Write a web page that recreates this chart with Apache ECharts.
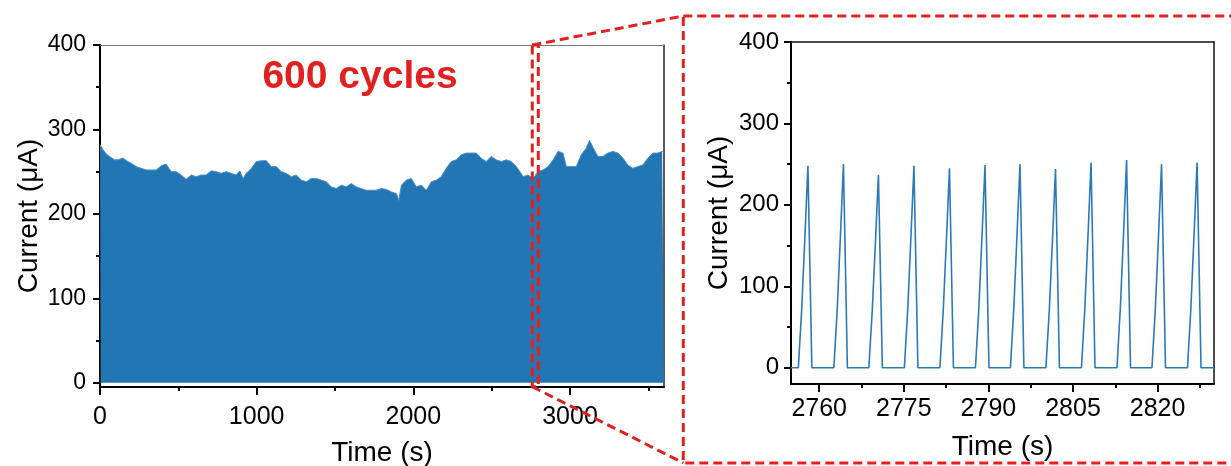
<!DOCTYPE html>
<html><head><meta charset="utf-8">
<script src="https://cdn.jsdelivr.net/npm/echarts@6/dist/echarts.min.js"></script>
<style>html,body{margin:0;padding:0;background:#fff}#c{width:1231px;height:466px}</style>
</head><body><div id="c"></div>
<script>
// ---- Left panel: envelope of the 600 current pulses ----
const envTime = [0,4,19,40,61,93,114,146,178,199,231,263,295,327,359,391,422,454,486,518,550,582,614,645,677,709,741,773,805,837,869,892,913,934,966,998,1030,1062,1093,1125,1157,1189,1221,1253,1285,1317,1349,1380,1412,1444,1476,1508,1540,1572,1604,1635,1667,1699,1731,1763,1795,1828,1860,1892,1907,1924,1955,1987,2019,2051,2083,2115,2147,2178,2210,2242,2274,2306,2338,2370,2402,2433,2465,2497,2529,2561,2593,2625,2657,2688,2701,2732,2764,2796,2828,2860,2892,2924,2955,2977,3008,3040,3072,3104,3125,3146,3178,3210,3242,3274,3306,3338,3369,3401,3433,3465,3497,3529,3560,3588,3600];
const envCurrent = [282,283,276,271,268,264,264,266,262,260,256,254,252,252,252,257,259,250,250,246,241,246,244,246,246,251,250,248,250,248,246,251,242,248,254,262,263,263,256,256,250,248,244,246,240,238,242,242,240,238,232,230,234,232,236,232,230,228,228,228,230,229,226,224,216,234,240,242,232,234,228,238,240,244,254,262,264,270,272,272,272,266,262,268,264,262,264,262,256,248,244,246,242,250,252,256,264,274,272,256,256,256,270,278,287,279,268,268,272,274,272,266,258,254,256,258,266,272,272,274,273];

// ---- Right panel: individual pulses between 2755 s and 2830 s ----
const peakStart       = [2756.3,2762.6,2768.8,2775.1,2781.4,2787.7,2793.9,2800.2,2806.5,2812.8,2819.0,2825.3];
const riseLowTime     = [2756.9,2763.2,2769.4,2775.7,2782.0,2788.3,2794.5,2800.8,2807.1,2813.4,2819.6,2825.9];
const riseLowCurrent  = [72,72,69,72,71,72,72,71,73,74,72,73];
const riseHighTime    = [2757.5,2763.8,2770.0,2776.3,2782.6,2788.9,2795.1,2801.4,2807.7,2814.0,2820.2,2826.5];
const riseHighCurrent = [166,168,159,166,164,167,168,163,169,171,168,169];
const peakTime        = [2758.0,2764.3,2770.5,2776.8,2783.1,2789.4,2795.6,2801.9,2808.2,2814.5,2820.7,2827.0];
const peakHeight      = [248,250,237,248,245,249,250,244,252,255,250,252];
const peakEnd         = [2758.7,2765.0,2771.2,2777.5,2783.8,2790.1,2796.3,2802.6,2808.9,2815.2,2821.4,2827.7];
const zoomStart = 2755, zoomEnd = 2830;

// ---- ticks ----
const leftXTicks  = [0,1000,2000,3000];
const leftXMinor  = [500,1500,2500,3500];
const yTicks      = [0,100,200,300,400];
const yMinor      = [50,150,250,350];
const rightXTicks = [2760,2775,2790,2805,2820];
const rightXMinor = [2767.5,2782.5,2797.5,2812.5,2827.5];

const leftData = envTime.map((t,i)=>[t, envCurrent[i]]);
const zoomData = [[zoomStart,0]];
peakTime.forEach((p,i)=>{
  zoomData.push([peakStart[i],0],[riseLowTime[i],riseLowCurrent[i]],[riseHighTime[i],riseHighCurrent[i]],
                [p,peakHeight[i]],[peakEnd[i],0]);
});
zoomData.push([zoomEnd,0]);

const FONT = "'Liberation Sans', Arial, sans-serif";
const RED = '#e0211f';
const plain = v => String(v);

function mainX(grid, min, max, ticks, fs, margin, gap){
  return {gridIndex:grid, type:'value', min, max, position:'bottom', offset:0,
    axisLine:{show:true, onZero:false, lineStyle:{color:'#000', width:2}},
    axisTick:{show:true, customValues:ticks, length:8, lineStyle:{color:'#000', width:2}},
    axisLabel:{show:true, customValues:ticks, formatter:plain, color:'#000', fontSize:fs, fontFamily:FONT, margin},
    splitLine:{show:false},
    name:'Time (s)', nameLocation:'middle', nameGap:gap,
    nameTextStyle:{color:'#000', fontSize:28, fontFamily:FONT}};
}
function minorX(grid, min, max, ticks){
  return {gridIndex:grid, type:'value', min, max, position:'bottom', offset:0,
    axisLine:{show:false, onZero:false}, axisTick:{show:true, customValues:ticks, length:4, lineStyle:{color:'#000', width:2}},
    axisLabel:{show:false}, splitLine:{show:false}};
}
function borderX(grid, min, max, color, w){
  return {gridIndex:grid, type:'value', min, max, position:'top', offset:0,
    axisLine:{show:true, onZero:false, lineStyle:{color, width:w}}, axisTick:{show:false},
    axisLabel:{show:false}, splitLine:{show:false}};
}
function mainY(grid, min, fs, margin, gap){
  return {gridIndex:grid, type:'value', min, max:400, position:'left', offset:0,
    axisLine:{show:true, onZero:false, lineStyle:{color:'#000', width:2}},
    axisTick:{show:true, customValues:yTicks, length:7, lineStyle:{color:'#000', width:2}},
    axisLabel:{show:true, customValues:yTicks, formatter:plain, color:'#000', fontSize:fs, fontFamily:FONT, margin,
               padding:[3,0,0,0]},
    splitLine:{show:false},
    name:'Current (μA)', nameLocation:'middle', nameGap:gap,
    nameTextStyle:{color:'#000', fontSize:28, fontFamily:FONT}};
}
function minorY(grid, min){
  return {gridIndex:grid, type:'value', min, max:400, position:'left', offset:0,
    axisLine:{show:false, onZero:false}, axisTick:{show:true, customValues:yMinor, length:4, lineStyle:{color:'#000', width:2}},
    axisLabel:{show:false}, splitLine:{show:false}};
}
function borderY(grid, min, color, w){
  return {gridIndex:grid, type:'value', min, max:400, position:'right', offset:0,
    axisLine:{show:true, onZero:false, lineStyle:{color, width:w}}, axisTick:{show:false},
    axisLabel:{show:false}, splitLine:{show:false}};
}

const chart = echarts.init(document.getElementById('c'), null, {renderer:'canvas'});
chart.setOption({
  animation:false,
  backgroundColor:'#fff',
  grid:[
    {left:100, top:45, width:564, height:342, containLabel:false, outerBoundsMode:'none'},
    {left:791, top:42, width:423, height:342, containLabel:false, outerBoundsMode:'none'}
  ],
  xAxis:[
    mainX(0, 0, 3600, leftXTicks, 25, 18, 52),
    minorX(0, 0, 3600, leftXMinor),
    borderX(0, 0, 3600, '#777', 1),
    mainX(1, zoomStart, zoomEnd, rightXTicks, 25, 13, 49),
    minorX(1, zoomStart, zoomEnd, rightXMinor),
    borderX(1, zoomStart, zoomEnd, '#111', 1.5)
  ],
  yAxis:[
    mainY(0, -5, 23, 14, 57),
    minorY(0, -5),
    borderY(0, -5, '#222', 1.5),
    mainY(1, -20, 24, 12, 58),
    minorY(1, -20),
    borderY(1, -20, '#111', 1.5)
  ],
  series:[
    {type:'line', xAxisIndex:0, yAxisIndex:0, data:leftData, symbol:'none',
     lineStyle:{color:'#4a8fc3', width:1}, areaStyle:{color:'#2276b3', opacity:1, origin:0}, z:2},
    {type:'line', xAxisIndex:3, yAxisIndex:3, data:zoomData, symbol:'none',
     lineStyle:{color:'#2a7ab8', width:1.6}, z:2}
  ],
  graphic:[
    {type:'rect', shape:{x:532.3, y:45, width:6, height:341.7}, style:{fill:null, stroke:RED, lineWidth:3, lineDash:[9,5]}, z:100},
    {type:'line', shape:{x1:532.3, y1:45, x2:683.3, y2:16}, style:{stroke:RED, lineWidth:3, lineDash:[9,5]}, z:100},
    {type:'line', shape:{x1:532.3, y1:386.7, x2:683.3, y2:463}, style:{stroke:RED, lineWidth:3, lineDash:[9,5]}, z:100},
    {type:'rect', shape:{x:683.3, y:16, width:580, height:447}, style:{fill:null, stroke:RED, lineWidth:3, lineDash:[9,5]}, z:100},
    {type:'text', x:360, y:77, style:{text:'600 cycles', fill:RED, font:"bold 39px 'Liberation Sans', Arial, sans-serif", textAlign:'center', textVerticalAlign:'middle'}, z:100}
  ]
});
</script></body></html>
